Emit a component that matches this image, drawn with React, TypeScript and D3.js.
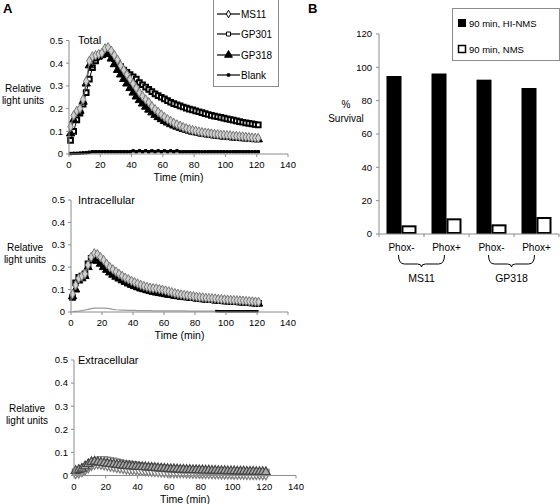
import React from "react";
import * as d3 from "d3";

// ---------- DATA ----------
const times = [1,3,5,7,9,11,13,15,17,19,21,23,25,27,29,31,33,35,37,39,41,43,45,47,49,51,53,55,57,59,61,63,65,67,69,71,73,75,77,79,81,83,85,87,89,91,93,95,97,99,101,103,105,107,109,111,113,115,117,119,121];
const xTicks = [0,20,40,60,80,100,120,140];
const yTicks = [0,0.1,0.2,0.3,0.4,0.5];
const yTickLabels = ["0","0.1","0.2","0.3","0.4","0.5"];
const seriesNames = ["MS11","GP301","GP318","Blank"];

// Total
const totalMS11 = [0.12,0.17,0.19,0.2,0.24,0.32,0.41,0.43,0.435,0.44,0.445,0.465,0.47,0.455,0.435,0.415,0.39,0.37,0.35,0.33,0.31,0.29,0.27,0.255,0.24,0.228,0.21,0.197,0.185,0.174,0.163,0.153,0.145,0.137,0.13,0.124,0.118,0.113,0.109,0.105,0.102,0.099,0.096,0.094,0.092,0.09,0.088,0.087,0.085,0.084,0.083,0.082,0.08,0.079,0.078,0.077,0.075,0.074,0.072,0.071,0.07];
const totalGP301 = [0.06,0.1,0.15,0.18,0.22,0.27,0.33,0.38,0.41,0.43,0.44,0.45,0.455,0.44,0.42,0.4,0.385,0.37,0.36,0.35,0.34,0.33,0.315,0.305,0.295,0.285,0.275,0.265,0.257,0.25,0.243,0.235,0.228,0.222,0.217,0.212,0.207,0.202,0.198,0.194,0.19,0.186,0.182,0.178,0.174,0.17,0.167,0.164,0.161,0.158,0.155,0.152,0.149,0.146,0.143,0.14,0.137,0.135,0.133,0.13,0.128];
const totalGP318 = [0.09,0.15,0.18,0.19,0.23,0.31,0.39,0.42,0.425,0.43,0.435,0.445,0.44,0.42,0.395,0.37,0.35,0.33,0.31,0.29,0.27,0.253,0.237,0.222,0.208,0.195,0.183,0.172,0.162,0.153,0.145,0.138,0.131,0.125,0.12,0.115,0.11,0.106,0.102,0.098,0.095,0.092,0.089,0.087,0.085,0.083,0.081,0.079,0.078,0.076,0.075,0.074,0.072,0.071,0.07,0.069,0.068,0.067,0.066,0.065,0.064];
const totalBlank = [0.002,0.003,0.003,0.004,0.005,0.006,0.008,0.01,0.01,0.01,0.01,0.01,0.01,0.01,0.01,0.01,0.01,0.01,0.01,0.01,0.014,0.01,0.014,0.01,0.014,0.01,0.014,0.01,0.014,0.01,0.014,0.01,0.014,0.01,0.014,0.01,0.01,0.01,0.01,0.01,0.01,0.01,0.01,0.01,0.01,0.01,0.01,0.01,0.01,0.01,0.01,0.01,0.01,0.01,0.01,0.01,0.01,0.01,0.01,0.01,0.01];

// Intracellular
const intraMS11 = [0.08,0.12,0.15,0.16,0.17,0.21,0.245,0.262,0.258,0.245,0.232,0.215,0.2,0.19,0.18,0.17,0.161,0.153,0.146,0.139,0.133,0.127,0.121,0.116,0.112,0.108,0.106,0.105,0.102,0.099,0.096,0.092,0.088,0.084,0.081,0.078,0.076,0.074,0.072,0.07,0.068,0.066,0.065,0.063,0.062,0.061,0.06,0.058,0.057,0.056,0.055,0.054,0.053,0.052,0.051,0.05,0.049,0.048,0.047,0.046,0.045];
const intraGP301 = [0.065,0.13,0.155,0.16,0.17,0.215,0.24,0.245,0.235,0.222,0.208,0.195,0.182,0.172,0.162,0.153,0.145,0.138,0.131,0.124,0.118,0.113,0.108,0.104,0.1,0.096,0.093,0.09,0.087,0.085,0.082,0.08,0.077,0.075,0.073,0.071,0.069,0.067,0.065,0.064,0.062,0.06,0.059,0.057,0.056,0.055,0.053,0.052,0.051,0.05,0.049,0.048,0.047,0.046,0.045,0.044,0.043,0.042,0.041,0.04,0.039];
const intraGP318 = [0.07,0.1,0.14,0.15,0.16,0.2,0.23,0.24,0.228,0.215,0.2,0.188,0.176,0.166,0.157,0.149,0.141,0.134,0.127,0.121,0.115,0.11,0.105,0.101,0.097,0.093,0.09,0.087,0.084,0.082,0.079,0.077,0.075,0.072,0.07,0.068,0.066,0.065,0.063,0.062,0.06,0.058,0.057,0.055,0.054,0.053,0.052,0.05,0.049,0.048,0.047,0.046,0.045,0.044,0.043,0.042,0.041,0.04,0.039,0.038,0.037];
const intraBlank = [0.002,0.003,0.004,0.006,0.009,0.012,0.015,0.017,0.017,0.017,0.017,0.016,0.015,0.012,0.01,0.009,0.008,0.008,0.007,0.007,0.007,0.006,0.006,0.006,0.006,0.006,0.005,0.005,0.005,0.005,0.005,0.005,0.005,0.005,0.005,0.005,0.005,0.004,0.004,0.004,0.004,0.004,0.004,0.004,0.004,0.004,0.004,0.003,0.003,0.003,0.003,0.003,0.003,0.003,0.003,0.003,0.003,0.003,0.003,0.003,0.003];

// Extracellular
const extraMS11 = [0.01,0.012,0.018,0.025,0.035,0.045,0.05,0.052,0.05,0.048,0.045,0.042,0.039,0.036,0.034,0.032,0.03,0.028,0.027,0.026,0.024,0.023,0.022,0.021,0.02,0.019,0.018,0.017,0.016,0.016,0.015,0.014,0.014,0.013,0.013,0.012,0.012,0.011,0.011,0.011,0.01,0.01,0.01,0.009,0.009,0.009,0.008,0.008,0.008,0.008,0.007,0.007,0.007,0.007,0.006,0.006,0.006,0.006,0.006,0.005,0.005];
const extraGP301 = [0.015,0.02,0.025,0.035,0.045,0.055,0.062,0.066,0.068,0.068,0.066,0.064,0.061,0.058,0.055,0.052,0.05,0.048,0.046,0.044,0.042,0.04,0.038,0.037,0.036,0.035,0.033,0.032,0.031,0.03,0.029,0.028,0.027,0.026,0.025,0.024,0.024,0.023,0.022,0.022,0.021,0.02,0.02,0.019,0.019,0.018,0.018,0.017,0.017,0.016,0.016,0.016,0.015,0.015,0.015,0.014,0.014,0.014,0.013,0.013,0.013];
const extraGP318 = [0.02,0.025,0.03,0.04,0.05,0.058,0.06,0.058,0.056,0.054,0.052,0.05,0.048,0.046,0.045,0.043,0.042,0.041,0.04,0.039,0.038,0.037,0.036,0.035,0.034,0.033,0.032,0.031,0.03,0.029,0.028,0.028,0.027,0.026,0.026,0.025,0.025,0.024,0.024,0.023,0.023,0.022,0.022,0.021,0.021,0.02,0.02,0.02,0.019,0.019,0.019,0.018,0.018,0.018,0.017,0.017,0.017,0.016,0.016,0.016,0.015];

// Panel B
const bCategories = ["MS11 Phox-","MS11 Phox+","GP318 Phox-","GP318 Phox+"];
const bCatLabels = ["Phox-","Phox+","Phox-","Phox+"];
const bSeries = ["90 min, HI-NMS","90 min, NMS"];
const survivalHINMS = [94.8,96.3,92.6,87.6];
const survivalNMS = [4.6,8.8,5.2,9.6];
const bGroups = ["MS11","GP318"];
const bYTicks = [0,20,40,60,80,100,120];

// ---------- DRAWING ----------
const FONT = "'Liberation Sans', Arial, Helvetica, sans-serif";

type Style = { symbol: any; size: number; fill: string; stroke: string; line: string; sw: number; msw: number };

const styleA: Record<string, Style> = {
  MS11: { symbol: d3.symbolDiamond, size: 26, fill: "#d0d0d0", stroke: "#777", line: "#777", sw: 1, msw: 1 },
  GP301: { symbol: d3.symbolSquare, size: 22, fill: "#ffffff", stroke: "#000", line: "#000", sw: 1, msw: 2 },
  GP318: { symbol: d3.symbolTriangle, size: 30, fill: "#000", stroke: "#000", line: "#000", sw: 1, msw: 1 },
  Blank: { symbol: d3.symbolSquare, size: 6, fill: "#000", stroke: "#000", line: "#000", sw: 2, msw: 1 },
};

const styleExtra: Record<string, Style> = {
  MS11: { symbol: d3.symbolDiamond, size: 34, fill: "#ffffff", stroke: "#7a7a7a", line: "#7a7a7a", sw: 1, msw: 1.2 },
  GP301: { symbol: d3.symbolSquare, size: 40, fill: "#ffffff", stroke: "#8a8a8a", line: "#8a8a8a", sw: 1, msw: 1.3 },
  GP318: { symbol: d3.symbolTriangle, size: 34, fill: "#aaaaaa", stroke: "#444", line: "#444", sw: 1, msw: 1.2 },
};

type Series = { name: string; values: number[]; style: Style; t?: number[] };

function TimePanel(props: {
  left: number; right: number; top: number; bottom: number; title: string; series: Series[];
  extra?: React.ReactNode; labelX: number;
}) {
  const { left, right, top, bottom, title, series, labelX } = props;
  const x = d3.scaleLinear().domain([0, 140]).range([left, right]);
  const y = d3.scaleLinear().domain([0, 0.5]).range([bottom, top]);
  const axisColor = "#8c8c8c";
  return (
    <g>
      {props.extra}
      {series.map((s) => {
        const tt = s.t || times;
        const pts = s.values.map((v, i) => [tt[i], v] as [number, number]);
        const line = d3.line<[number, number]>().x((d) => x(d[0])).y((d) => y(d[1]));
        const sym = d3.symbol().type(s.style.symbol).size(s.style.size)();
        return (
          <g key={s.name}>
            <path d={line(pts) || ""} fill="none" stroke={s.style.line} strokeWidth={s.style.sw} />
            {pts.map((p, i) => (
              <path key={i} d={sym || ""} transform={`translate(${x(p[0])},${y(p[1])})`}
                fill={s.style.fill} stroke={s.style.stroke} strokeWidth={s.style.msw} />
            ))}
          </g>
        );
      })}
      <line x1={left} x2={left} y1={top} y2={bottom} stroke={axisColor} strokeWidth={1} />
      <line x1={left} x2={right} y1={bottom} y2={bottom} stroke={axisColor} strokeWidth={1} />
      {yTicks.map((t, i) => (
        <g key={"y" + i}>
          <line x1={left - 3} x2={left} y1={y(t)} y2={y(t)} stroke={axisColor} />
          <text x={left - 6} y={y(t) + 3.3} fontSize={9.5} textAnchor="end" fontFamily={FONT}>{yTickLabels[i]}</text>
        </g>
      ))}
      {xTicks.map((t) => (
        <g key={"x" + t}>
          <line x1={x(t)} x2={x(t)} y1={bottom} y2={bottom + 3} stroke={axisColor} />
          <text x={x(t)} y={bottom + 14} fontSize={9.5} textAnchor="middle" fontFamily={FONT}>{t}</text>
        </g>
      ))}
      <text x={(left + right) / 2} y={bottom + 27} fontSize={10.5} textAnchor="middle" fontFamily={FONT}>Time (min)</text>
      <text x={78} y={top + 3.5} fontSize={11} fontFamily={FONT}>{title}</text>
      <text x={labelX} y={y(0.29) + 3.5} fontSize={10} textAnchor="middle" fontFamily={FONT}>Relative</text>
      <text x={labelX} y={y(0.29) + 15.5} fontSize={10} textAnchor="middle" fontFamily={FONT}>light units</text>
    </g>
  );
}

function LegendA() {
  const rows = [14, 34, 55, 75];
  return (
    <g>
      <rect x={213.5} y={-0.5} width={65} height={87} fill="#fff" stroke="#8c8c8c" strokeWidth={1} />
      {seriesNames.map((n, i) => {
        const st = styleA[n];
        const sym = d3.symbol().type(st.symbol).size(n === "Blank" ? 6 : n === "GP318" ? 26 : 16)();
        return (
          <g key={n}>
            <line x1={217} x2={240} y1={rows[i]} y2={rows[i]} stroke="#000" strokeWidth={1.2} />
            <path d={sym || ""} transform={`translate(228.5,${rows[i]})`} fill={n === "MS11" || n === "GP301" ? "#fff" : "#000"} stroke="#000" strokeWidth={1} />
            <text x={241} y={rows[i] + 3.5} fontSize={10} fontFamily={FONT}>{n}</text>
          </g>
        );
      })}
    </g>
  );
}

function PanelB() {
  const x0 = d3.scaleBand<string>().domain(bCategories).range([379, 559]).padding(0);
  const x1 = d3.scaleBand<string>().domain(bSeries).range([0, x0.bandwidth()]).paddingInner(0).paddingOuter(0.5);
  const y = d3.scaleLinear().domain([0, 120]).range([234, 34]);
  const axisColor = "#8c8c8c";
  const vals = [survivalHINMS, survivalNMS];
  const bw = x1.bandwidth();
  const braces = bGroups.map((g, gi) => {
    const a = (x0(bCategories[gi * 2]) as number) + x0.bandwidth() / 2 - 3;
    const b = (x0(bCategories[gi * 2 + 1]) as number) + x0.bandwidth() / 2 - 2;
    const m = (a + b) / 2;
    const yt = 255, yb = 264;
    const d = `M${a},${yt} Q${a},${yb} ${a + 6},${yb} L${m - 4},${yb} Q${m},${yb} ${m},${yb + 3} Q${m},${yb} ${m + 4},${yb} L${b - 6},${yb} Q${b},${yb} ${b},${yt}`;
    return { g, d, m };
  });
  return (
    <g>
      {bCategories.map((c, ci) => (
        <g key={c}>
          {bSeries.map((s, si) => {
            const v = vals[si][ci];
            const bx = (x0(c) as number) + (x1(s) as number);
            return si === 0 ? (
              <rect key={s} x={bx} y={y(v)} width={bw} height={y(0) - y(v)} fill="#000" />
            ) : (
              <rect key={s} x={bx + 1} y={y(v)} width={bw - 2} height={y(0) - y(v) - 1} fill="#fff" stroke="#000" strokeWidth={2} />
            );
          })}
          <text x={(x0(c) as number) + x0.bandwidth() / 2} y={251} fontSize={10} textAnchor="middle" fontFamily={FONT}>{bCatLabels[ci]}</text>
        </g>
      ))}
      <line x1={379} x2={379} y1={34} y2={234} stroke={axisColor} />
      <line x1={379} x2={559} y1={234} y2={234} stroke={axisColor} />
      {bYTicks.map((t) => (
        <g key={t}>
          <line x1={376} x2={379} y1={y(t)} y2={y(t)} stroke={axisColor} />
          <text x={372} y={y(t) + 3.3} fontSize={9.5} textAnchor="end" fontFamily={FONT}>{t}</text>
        </g>
      ))}
      {[...bCategories.map((c) => x0(c) as number), 559].map((xx, i) => (
        <line key={i} x1={xx} x2={xx} y1={234} y2={237} stroke={axisColor} />
      ))}
      {braces.map((b) => (
        <g key={b.g}>
          <path d={b.d} fill="none" stroke="#000" strokeWidth={1} />
          <text x={b.m} y={282} fontSize={10.5} textAnchor="middle" fontFamily={FONT}>{b.g}</text>
        </g>
      ))}
      <text x={346} y={108} fontSize={10} textAnchor="middle" fontFamily={FONT}>%</text>
      <text x={346} y={122} fontSize={10} textAnchor="middle" fontFamily={FONT}>Survival</text>
      <rect x={452.5} y={8.5} width={107} height={52} fill="#fff" stroke="#8c8c8c" />
      <rect x={458} y={19} width={8} height={8} fill="#000" />
      <text x={469} y={26.5} fontSize={9.5} fontFamily={FONT}>{bSeries[0]}</text>
      <rect x={458.5} y={45.5} width={7} height={7} fill="#fff" stroke="#000" strokeWidth={1.5} />
      <text x={469} y={52.5} fontSize={9.5} fontFamily={FONT}>{bSeries[1]}</text>
    </g>
  );
}

export default function App() {
  const topSeries: Series[] = [
    { name: "GP301", values: totalGP301, style: styleA.GP301 },
    { name: "GP318", values: totalGP318, style: styleA.GP318 },
    { name: "MS11", values: totalMS11, style: styleA.MS11 },
    { name: "Blank", values: totalBlank, style: styleA.Blank },
  ];
  const midSeries: Series[] = [
    { name: "GP301", values: intraGP301, style: styleA.GP301 },
    { name: "GP318", values: intraGP318, style: styleA.GP318 },
    { name: "MS11", values: intraMS11, style: styleA.MS11 },
  ];
  const botSeries: Series[] = [
    { name: "MS11", values: extraMS11, style: styleExtra.MS11 },
    { name: "GP301", values: extraGP301, style: styleExtra.GP301 },
    { name: "GP318", values: extraGP318, style: styleExtra.GP318 },
  ];
  // Intracellular blank: grey thin line early, black thick segment later
  const xm = d3.scaleLinear().domain([0, 140]).range([71, 288]);
  const ym = d3.scaleLinear().domain([0, 0.5]).range([312, 200]);
  const blankPts = intraBlank.map((v, i) => [times[i], v] as [number, number]);
  const bl = d3.line<[number, number]>().x((d) => xm(d[0])).y((d) => ym(d[1]));
  const midExtra = (
    <g>
      <path d={bl(blankPts.filter((p) => p[0] <= 93)) || ""} fill="none" stroke="#999" strokeWidth={1.2} />
      <path d={bl(blankPts.filter((p) => p[0] >= 93)) || ""} fill="none" stroke="#000" strokeWidth={2.5} />
    </g>
  );
  return (
    <svg width={560} height={504} style={{ position: "absolute", left: 0, top: 0, background: "#fff" }}>
      <rect x={0} y={0} width={560} height={504} fill="#fff" />
      <text x={3} y={13} fontSize={13} fontWeight="bold" fontFamily={FONT}>A</text>
      <text x={308} y={13} fontSize={13} fontWeight="bold" fontFamily={FONT}>B</text>
      <TimePanel left={69} right={288} top={40.5} bottom={154} title="Total" series={topSeries} labelX={23} />
      <TimePanel left={71} right={288} top={200} bottom={312} title="Intracellular" series={midSeries} extra={midExtra} labelX={25} />
      <TimePanel left={74} right={296} top={360} bottom={475.5} title="Extracellular" series={botSeries} labelX={27} />
      <LegendA />
      <PanelB />
    </svg>
  );
}
